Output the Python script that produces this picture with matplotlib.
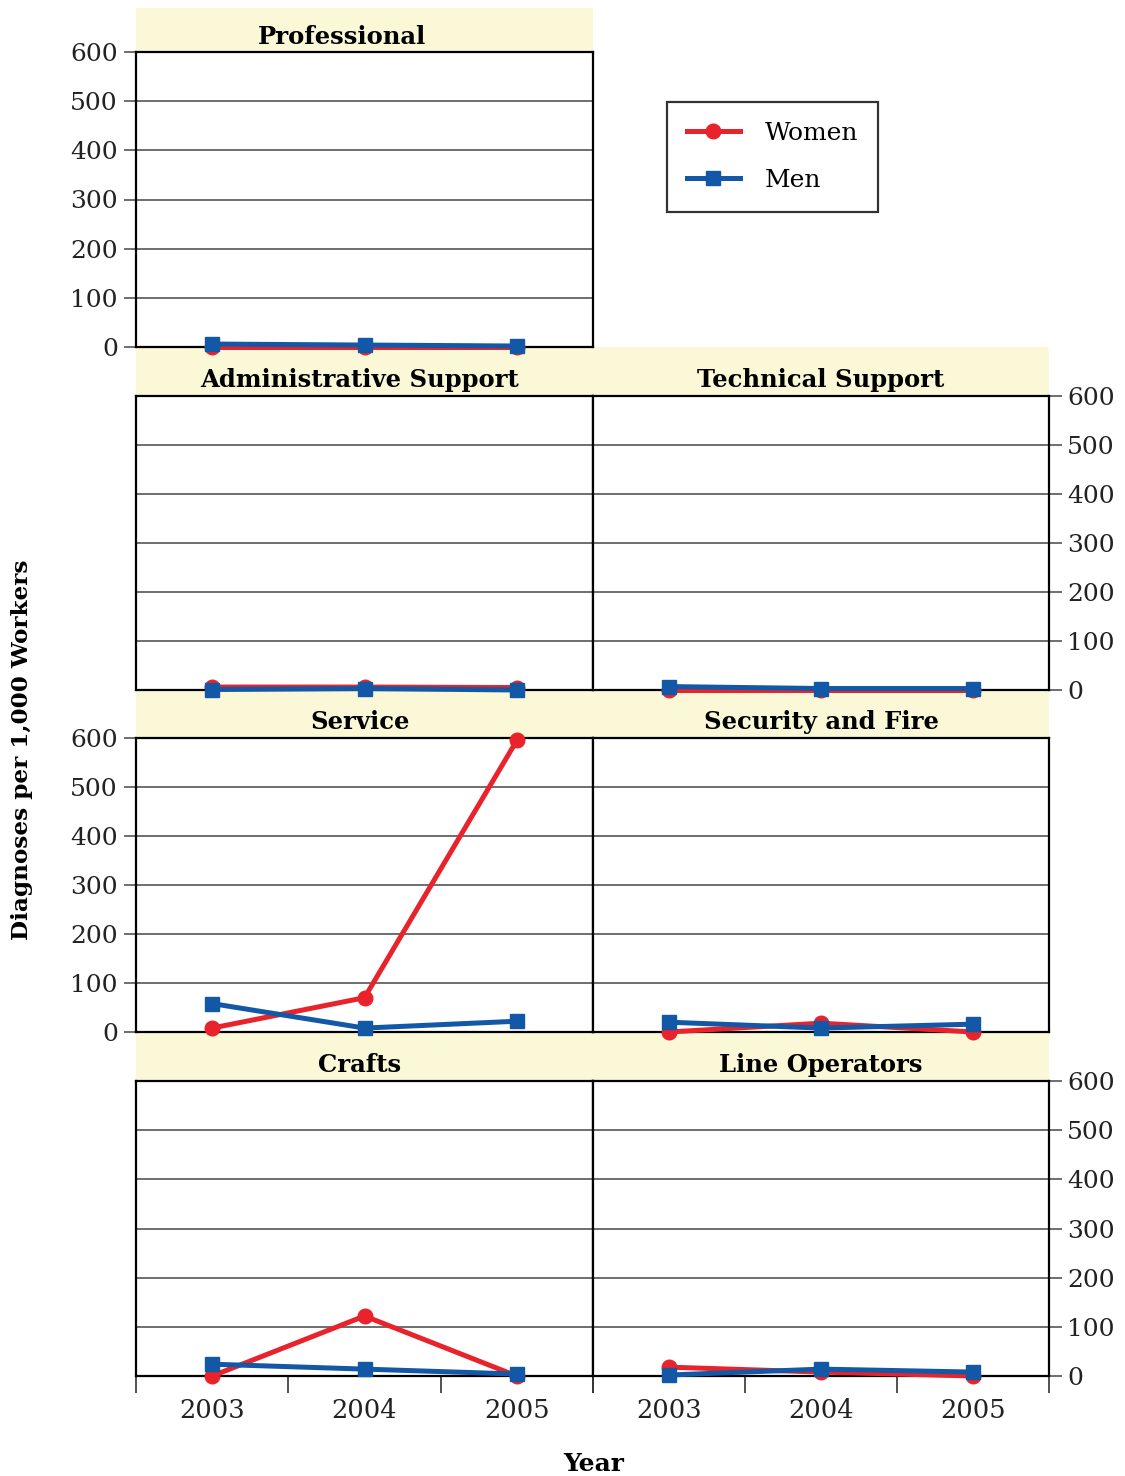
import matplotlib.pyplot as plt
from matplotlib.lines import Line2D

# data (diagnoses per 1,000 workers)
years = ['2003', '2004', '2005']
panel_titles = ['Professional', 'Administrative Support', 'Technical Support',
                'Service', 'Security and Fire', 'Crafts', 'Line Operators']
women_rates = [
    [0, 0, 0],
    [6, 6, 5],
    [0, 0, 0],
    [8, 70, 595],
    [0, 18, 0],
    [0, 122, 0],
    [18, 8, 0],
]
men_rates = [
    [6, 4, 2],
    [1, 3, 0],
    [7, 3, 3],
    [58, 8, 22],
    [20, 8, 16],
    [24, 14, 4],
    [2, 14, 8],
]
y_ticks = [0, 100, 200, 300, 400, 500, 600]

RED = '#e8232b'
BLUE = '#1358a6'
STRIP = '#fbf8d8'
W, H = 1125, 1476

plt.rcParams['font.family'] = ['DejaVu Serif']


def box(x0, y0, x1, y1):
    # pixel box -> figure fraction
    return [x0 / W, 1 - y1 / H, (x1 - x0) / W, (y1 - y0) / H]


cols = [(136, 593), (593, 1049)]
rows = [(52, 347), (396, 690), (738, 1032), (1081, 1376)]
strip_tops = [8, 347, 690, 1032]
# (row, col, where the y labels go)
places = [(0, 0, 'left'), (1, 0, None), (1, 1, 'right'), (2, 0, 'left'),
          (2, 1, None), (3, 0, None), (3, 1, 'right')]

fig = plt.figure(figsize=(W / 100, H / 100), dpi=100)

for i, (r, c, side) in enumerate(places):
    x0, x1 = cols[c]
    y0, y1 = rows[r]

    # title strip
    sax = fig.add_axes(box(x0, strip_tops[r], x1, y0), zorder=0)
    sax.set_facecolor(STRIP)
    sax.set_xticks([])
    sax.set_yticks([])
    for s in sax.spines.values():
        s.set_visible(False)
    tx = 0.49 if c == 0 else 0.5
    if i == 0:
        tx = 0.45
    sax.text(tx, 0.33, panel_titles[i], ha='center', va='center',
             fontsize=17.5, fontweight='bold', transform=sax.transAxes)

    ax = fig.add_axes(box(x0, y0, x1, y1), zorder=2)
    ax.set_facecolor('white')
    xs = range(1, len(years) + 1)
    ax.plot(xs, women_rates[i], color=RED, lw=3.6, marker='o', ms=10.5,
            clip_on=False, zorder=4)
    ax.plot(xs, men_rates[i], color=BLUE, lw=3.6, marker='s', ms=10.5,
            clip_on=False, zorder=5)
    ax.set_xlim(0.5, 3.5)
    ax.set_ylim(0, 600)
    ax.set_yticks(y_ticks)
    ax.grid(axis='y', color='#555555', lw=1.2)
    ax.set_axisbelow(True)
    for s in ax.spines.values():
        s.set_color('black')
        s.set_linewidth(1.6)

    if side == 'left':
        ax.tick_params(axis='y', left=True, right=False, labelleft=True,
                       labelright=False, length=9, width=1.2, color='#555555',
                       pad=4, labelsize=18, labelcolor='#222222')
    elif side == 'right':
        ax.tick_params(axis='y', left=False, right=True, labelleft=False,
                       labelright=True, length=9, width=1.2, color='#555555',
                       pad=4, labelsize=18, labelcolor='#222222')
    else:
        ax.tick_params(axis='y', left=False, labelleft=False)

    if r == 3:
        ax.set_xticks(list(xs))
        ax.set_xticklabels(years)
        ax.set_xticks([0.5, 1.5, 2.5, 3.5], minor=True)
        ax.tick_params(axis='x', which='major', length=0, pad=16,
                       labelsize=18.5, labelcolor='#222222')
        ax.tick_params(axis='x', which='minor', length=12, width=1.2,
                       color='#333333')
    else:
        ax.set_xticks([])

handles = [
    Line2D([], [], color=RED, lw=3.6, marker='o', ms=10.5),
    Line2D([], [], color=BLUE, lw=3.6, marker='s', ms=10.5),
]
leg = fig.legend(handles, ['Women', 'Men'], loc='upper left',
                 bbox_to_anchor=(667 / W, 1 - 102 / H), fontsize=18,
                 frameon=True, fancybox=False, edgecolor='black',
                 handlelength=2.1, handletextpad=1.0, borderpad=0.8,
                 labelspacing=0.95, borderaxespad=0)
leg.get_frame().set_linewidth(1.6)
# stretch the box a little to match the reference width
leg._legend_box.align = 'left'
leg.set_bbox_to_anchor((667 / W, 1 - 102 / H, 219 / W, 0))
leg._loc = 2
leg.set_in_layout(False)
for t in leg.get_texts():
    t.set_ha('left')

fig.text(22 / W, 1 - 750 / H, 'Diagnoses per 1,000 Workers', rotation=90,
         ha='center', va='center', fontsize=16.7, fontweight='bold')
fig.text(594 / W, 1 - 1464 / H, 'Year', ha='center', va='center',
         fontsize=18, fontweight='bold')

fig.savefig('out.png', dpi=100)
